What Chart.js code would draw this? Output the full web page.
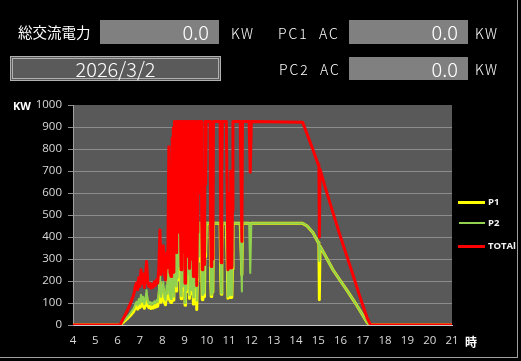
<!DOCTYPE html>
<html><head><meta charset="utf-8">
<script src="https://cdn.jsdelivr.net/npm/chart.js@4"></script>
<style>
html,body{margin:0;padding:0;background:#000;width:521px;height:361px;overflow:hidden;}
#wrap{position:relative;width:521px;height:361px;}
canvas{position:absolute;left:0;top:0;}
.t{position:absolute;color:#fff;font-family:"Noto Sans CJK JP","Noto Sans",sans-serif;white-space:nowrap;line-height:1;}
.u{position:absolute;color:#fff;font-family:"Noto Sans CJK JP","Noto Sans",sans-serif;font-weight:300;white-space:nowrap;line-height:1;font-size:14px;letter-spacing:1.5px;}
.box{position:absolute;background:#808080;color:#fff;text-align:right;box-sizing:border-box;padding-right:10px;font-family:"Noto Sans CJK JP","Noto Sans",sans-serif;font-weight:300;font-size:20px;}
.lg{position:absolute;}
.lt{position:absolute;color:#f2f2f2;font-family:"Open Sans",sans-serif;font-weight:700;font-size:9.5px;line-height:1;}
#frame{position:absolute;left:-1px;top:-1px;width:519px;height:359px;border:1px solid #a0a0a0;box-sizing:border-box;pointer-events:none;}
</style>
</head><body>
<div id="wrap">
<canvas id="c" width="521" height="361" style="width:521px;height:361px"></canvas>

<div class="t" style="left:18px;top:25px;font-size:14.5px;">総交流電力</div>
<div class="box" style="left:100px;top:20px;width:119px;height:24px;line-height:24px;">0.0</div>
<div class="u" style="left:231px;top:26px;">KW</div>
<div class="u" style="left:278px;top:26px;letter-spacing:2px;">PC1&nbsp;&nbsp;AC</div>
<div class="box" style="left:349px;top:20px;width:119px;height:24px;line-height:24px;">0.0</div>
<div class="u" style="left:475px;top:26px;">KW</div>

<div style="position:absolute;left:10px;top:56px;width:211px;height:25px;box-sizing:border-box;border:3px double #b0b0b0;background:#5a5a5a;color:#fff;text-align:center;font-family:'Noto Sans CJK JP','Noto Sans',sans-serif;font-weight:300;font-size:20px;line-height:20px;">2026/3/2</div>
<div class="u" style="left:279px;top:62px;letter-spacing:2px;">PC2&nbsp;&nbsp;AC</div>
<div class="box" style="left:349px;top:57px;width:119px;height:23px;line-height:23px;">0.0</div>
<div class="u" style="left:475px;top:62px;">KW</div>

<div class="t" style="left:13px;top:100px;font-size:11px;font-weight:700;font-family:'Open Sans',sans-serif;">KW</div>
<div class="t" style="left:465px;top:336px;font-size:12px;font-weight:700;">時</div>

<div class="lg" style="left:458px;top:201px;width:27px;height:3px;background:#ffff00;"></div>
<div class="lt" style="left:488px;top:197px;">P1</div>
<div class="lg" style="left:459px;top:222px;width:26px;height:2px;background:#92d050;"></div>
<div class="lt" style="left:488px;top:218px;">P2</div>
<div class="lg" style="left:458px;top:245px;width:27px;height:3px;background:#ff0000;"></div>
<div class="lt" style="left:488px;top:241px;">TOTAl</div>

<div id="frame"></div>
</div>
<script>
// hour of day
const times = [4, 6.1, 6.15, 6.2, 6.25, 6.3, 6.35, 6.4, 6.45, 6.5, 6.55, 6.6, 6.65, 6.7, 6.75, 6.8, 6.85, 6.9, 6.95, 7.0,
 7.05, 7.1, 7.15, 7.2, 7.25, 7.3, 7.35, 7.4, 7.45, 7.5, 7.55, 7.6, 7.65, 7.7, 7.75, 7.8, 7.85, 7.9, 7.95, 8.0,
 8.05, 8.1, 8.15, 8.2, 8.25, 8.3, 8.35,
 8.4, 8.425, 8.45, 8.475, 8.5, 8.525, 8.55, 8.575, 8.6, 8.625, 8.65, 8.675, 8.7, 8.725, 8.75, 8.775,
 8.8, 8.825, 8.85, 8.875, 8.9, 8.925, 8.95, 8.975, 9.0, 9.025, 9.05, 9.075, 9.1, 9.125, 9.15, 9.175,
 9.2, 9.225, 9.25, 9.275, 9.3, 9.325, 9.35, 9.375, 9.4, 9.425, 9.45, 9.475, 9.5, 9.525, 9.55, 9.575,
 9.6, 9.625, 9.65, 9.675, 9.7, 9.725, 9.75, 9.775, 9.8, 9.825, 9.85, 9.875, 9.9, 9.925, 9.95, 9.975,
 10.0, 10.025, 10.05, 10.075, 10.1, 10.125, 10.15, 10.175, 10.2, 10.225, 10.25, 10.275, 10.3, 10.325, 10.35, 10.375,
 10.4, 10.425, 10.45, 10.475, 10.5, 10.525, 10.55, 10.575, 10.6, 10.625, 10.65, 10.675, 10.7, 10.725, 10.75, 10.775,
 10.8, 10.825, 10.85, 10.875, 10.9, 10.925, 10.95, 10.975, 11.0, 11.025, 11.05, 11.075, 11.1, 11.125, 11.15, 11.175,
 11.2, 11.225, 11.25,
 11.475, 11.5, 11.525, 11.575, 11.6, 11.625, 11.9, 11.95, 12.0,
 14.3, 14.5, 14.75, 15.0, 15.03, 15.05, 15.08, 15.3, 15.66, 16.0, 16.29, 16.6, 16.87, 17.05, 17.2, 17.35, 21];

const p1Kw = [0, 0, 3, 8, 12, 17, 21, 26, 30, 36, 41, 46, 53, 58, 68, 80, 86, 72, 97, 79,
 113, 85, 104, 76, 97, 130, 88, 79, 85, 75, 83, 77, 88, 81, 92, 85, 117, 196, 103, 131,
 165, 103, 92, 150, 118, 398, 108,
 102, 142, 418, 132, 441, 112, 462, 228, 290, 155, 462, 340, 205, 462, 252, 315,
 462, 205, 119, 290, 462, 158, 232, 462, 290, 90, 158, 462, 150, 340, 462, 218,
 462, 121, 184, 462, 270, 142, 462, 198, 95, 252, 462, 158, 462, 290, 70, 205,
 462, 290, 462, 462, 462, 462, 462, 236, 115, 340, 140, 252, 128, 462, 310, 462,
 462, 462, 462, 462, 462, 462, 462, 210, 129, 290, 150, 160, 462, 462, 462, 462,
 462, 462, 462, 462, 462, 462, 462, 462, 462, 232, 140, 340, 462, 462, 462, 462,
 462, 462, 462, 462, 462, 255, 122, 290, 125, 242, 130, 340, 170, 125, 255, 462,
 462, 462, 462,
 462, 462, 462, 228, 462, 462, 462, 458, 462,
 462, 450, 422, 375, 368, 115, 358, 318, 251, 200, 157, 110, 66, 35, 10, 0, 0];

const p2Kw = [0, 0, 5, 10, 16, 21, 27, 32, 38, 44, 51, 58, 65, 72, 82, 98, 106, 88, 118, 96,
 138, 105, 128, 94, 118, 159, 107, 96, 105, 93, 102, 95, 108, 99, 113, 105, 143, 236, 127, 159,
 195, 127, 113, 180, 142, 412, 132,
 118, 158, 432, 148, 455, 128, 463, 242, 310, 175, 463, 360, 215, 463, 268, 335,
 463, 215, 132, 310, 463, 175, 248, 463, 310, 100, 172, 463, 160, 360, 463, 232,
 463, 136, 196, 463, 290, 158, 463, 212, 125, 268, 463, 172, 463, 310, 110, 215,
 463, 310, 463, 463, 463, 463, 463, 244, 136, 360, 160, 268, 146, 463, 330, 463,
 463, 463, 463, 463, 463, 463, 463, 230, 137, 310, 150, 173, 463, 463, 463, 463,
 463, 463, 463, 463, 463, 463, 463, 463, 463, 248, 143, 360, 463, 463, 463, 463,
 463, 463, 463, 463, 463, 265, 129, 310, 135, 258, 140, 360, 180, 135, 265, 463,
 463, 463, 463,
 463, 463, 463, 152, 463, 463, 463, 236, 463,
 463, 450, 422, 375, 368, 290, 358, 318, 251, 200, 157, 110, 66, 35, 10, 0, 0];

const totalKw = [0, 0, 8, 18, 28, 38, 48, 58, 68, 80, 92, 104, 118, 130, 150, 178, 192, 160, 215, 175,
 251, 190, 232, 170, 215, 289, 195, 175, 190, 168, 185, 172, 196, 180, 205, 190, 260, 432, 230, 290,
 360, 230, 205, 330, 260, 810, 240,
 220, 300, 850, 280, 896, 240, 925, 470, 600, 330, 925, 700, 420, 925, 520, 650,
 925, 420, 251, 600, 925, 333, 480, 925, 600, 190, 330, 925, 310, 700, 925, 450,
 925, 257, 380, 925, 560, 300, 925, 410, 220, 520, 925, 330, 925, 600, 180, 420,
 925, 600, 925, 925, 925, 925, 925, 480, 251, 700, 300, 520, 274, 925, 640, 925,
 925, 925, 925, 925, 925, 925, 925, 440, 266, 600, 300, 333, 925, 925, 925, 925,
 925, 925, 925, 925, 925, 925, 925, 925, 925, 480, 283, 700, 925, 925, 925, 925,
 925, 925, 925, 925, 925, 520, 251, 600, 260, 500, 270, 700, 350, 260, 520, 925,
 925, 925, 925,
 925, 925, 925, 380, 925, 925, 925, 694, 925,
 922, 868, 800, 730, 725, 400, 708, 630, 511, 400, 311, 215, 128, 75, 30, 0, 0];

const yTicksMax = 1000;
const xHours = {min: 4, max: 21};

const series = (arr) => times.map((t, i) => ({x: t, y: arr[i]}));

const bgPlugin = {
  id: 'plotBg',
  beforeDraw(chart) {
    const {ctx, chartArea: a} = chart;
    ctx.save();
    ctx.fillStyle = '#595959';
    ctx.fillRect(a.left, a.top, a.right - a.left, a.bottom - a.top);
    ctx.restore();
  }
};

const tickFont = {family: 'Open Sans', size: 11.5};

new Chart(document.getElementById('c'), {
  type: 'line',
  data: {
    datasets: [
      {label: 'TOTAl', data: series(totalKw), borderColor: '#ff0000', borderWidth: 3, order: 0},
      {label: 'P2', data: series(p2Kw), borderColor: '#92d050', borderWidth: 2, order: 1},
      {label: 'P1', data: series(p1Kw), borderColor: '#ffff00', borderWidth: 3, order: 2}
    ]
  },
  options: {
    responsive: false,
    animation: false,
    devicePixelRatio: 1,
    layout: {padding: {left: 0, top: 105, right: 69, bottom: 0}},
    elements: {
      point: {radius: 0},
      line: {tension: 0, borderJoinStyle: 'round', borderCapStyle: 'round', fill: false}
    },
    plugins: {legend: {display: false}, tooltip: {enabled: false}},
    scales: {
      x: {
        type: 'linear', min: xHours.min, max: xHours.max,
        ticks: {stepSize: 1, color: '#d9d9d9', font: tickFont, padding: 9, maxRotation: 0, autoSkip: false,
                callback: v => String(v)},
        grid: {display: false, drawTicks: false},
        border: {display: true, color: '#c8c8c8'},
        afterFit: s => { s.height = 36; }
      },
      y: {
        min: 0, max: yTicksMax,
        ticks: {stepSize: 100, color: '#d9d9d9', font: tickFont, padding: 6, callback: v => String(v)},
        grid: {
          color: c => (c.tick && c.tick.value === yTicksMax) ? 'rgba(0,0,0,0)' : '#8c8c8c',
          tickColor: '#8c8c8c', tickLength: 5
        },
        border: {color: '#a0a0a0'},
        afterFit: s => { s.width = 73; }
      }
    }
  },
  plugins: [bgPlugin]
});
</script>
</body></html>
